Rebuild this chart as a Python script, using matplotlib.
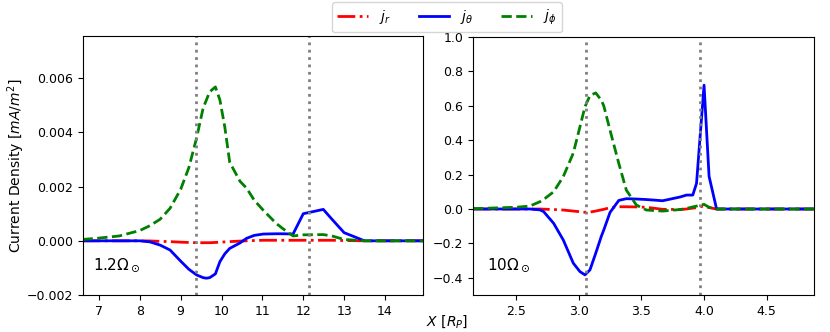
import matplotlib.pyplot as plt
import numpy as np

# left panel, 1.2 Omega_sun
x1 = [6.6, 7.0, 7.5, 8.0, 8.25, 8.5, 8.74, 9.0, 9.2, 9.39, 9.55, 9.63, 9.71, 9.85, 9.96,
      10.08, 10.2, 10.45, 10.61, 10.8, 11.02, 11.34, 11.5, 11.75, 12.0, 12.49, 12.7, 13.0,
      13.5, 14.0, 14.93]
jr1 = [0, 0, 0, 0, -0.000005, -0.00002, -0.00003, -0.00005, -0.00006, -0.00007, -0.00007,
       -0.00007, -0.00007, -0.00006, -0.00005, -0.00004, -0.00003, -0.00001, 0.0,
       0.00001, 0.00002, 0.00002, 0.00002, 0.00002, 0.00002, 0.00002, 0.00002,
       0.00001, 0, 0, 0]
jth1 = [0, 0, 0, 0, -0.00004, -0.00016, -0.00034, -0.00075, -0.00105, -0.00126, -0.00136,
        -0.00138, -0.00136, -0.00122, -0.00077, -0.00048, -0.00028, -0.00008, 0.00009,
        0.0002, 0.00025, 0.00026, 0.00026, 0.00025, 0.001, 0.00116, 0.0008, 0.0003, 0, 0, 0]
jph1 = [0.00005, 0.0001, 0.00018, 0.00038, 0.00056, 0.0008, 0.0012, 0.0019, 0.0027, 0.0038,
        0.0049, 0.0052, 0.0055, 0.00568, 0.0052, 0.0042, 0.0029, 0.0022, 0.00195,
        0.0015, 0.00113, 0.00064, 0.00045, 0.00018, 0.00022, 0.00023, 0.00018,
        0.00005, 0, 0, 0]

# right panel, 10 Omega_sun
x2 = [2.157, 2.5, 2.61, 2.69, 2.72, 2.8, 2.877, 2.957, 3.01, 3.05, 3.09, 3.136, 3.18,
      3.2, 3.25, 3.32, 3.38, 3.46, 3.54, 3.67, 3.81, 3.86, 3.91, 3.94, 4.0, 4.04,
      4.1, 4.5, 4.877]
jr2 = [0, 0, 0, 0, -0.001, -0.003, -0.006, -0.012, -0.016, -0.019, -0.018, -0.012, -0.005,
       -0.002, 0.008, 0.013, 0.013, 0.012, 0.01, -0.002, -0.003, 0.0, 0.005, 0.008, 0.018,
       0.008, 0, 0, 0]
jth2 = [0, 0, 0, -0.005, -0.015, -0.083, -0.18, -0.315, -0.364, -0.383, -0.354, -0.257,
        -0.16, -0.122, -0.02, 0.05, 0.06, 0.058, 0.055, 0.048, 0.07, 0.081, 0.081, 0.149,
        0.72, 0.19, 0, 0, 0]
jph2 = [0.002, 0.01, 0.017, 0.042, 0.055, 0.1, 0.188, 0.325, 0.478, 0.594, 0.66, 0.675,
        0.633, 0.6, 0.458, 0.265, 0.11, 0.023, -0.006, -0.012, -0.003, 0.003, 0.012, 0.017,
        0.027, 0.01, 0, 0, 0]

vlines1 = [9.38, 12.15]
vlines2 = [3.06, 3.97]

fig = plt.figure(figsize=(8.3, 3.32), dpi=100)
ax1 = fig.add_axes([83/830, 37/332, 340/830, 259/332])
ax2 = fig.add_axes([473/830, 37/332, 341/830, 258/332])

for ax, x, jr, jth, jph, vl in [(ax1, x1, jr1, jth1, jph1, vlines1),
                                (ax2, x2, jr2, jth2, jph2, vlines2)]:
    ax.plot(x, jr, color='red', ls='-.', lw=2, label='$j_r$')
    ax.plot(x, jth, color='blue', ls='-', lw=2, label=r'$j_\theta$')
    ax.plot(x, jph, color='green', ls='--', lw=2, label=r'$j_\phi$')
    for v in vl:
        ax.axvline(v, color='grey', ls=':', lw=2)
    ax.tick_params(labelsize=9)

ax1.set_xlim(6.61, 14.93)
ax1.set_ylim(-0.002, 0.00756)
ax1.set_yticks([-0.002, 0.0, 0.002, 0.004, 0.006])
ax1.set_xticks(range(7, 15))
ax1.set_ylabel('Current Density [$mA/m^2$]', fontsize=10, labelpad=0)
ax1.text(0.03, 0.1, r'$1.2\Omega_\odot$', transform=ax1.transAxes, fontsize=11)

ax2.set_xlim(2.157, 4.877)
ax2.set_ylim(-0.5, 1.0)
ax2.set_xticks([2.5, 3.0, 3.5, 4.0, 4.5])
ax2.text(0.04, 0.1, r'$10\Omega_\odot$', transform=ax2.transAxes, fontsize=11)

fig.text(447/830, 10/332, '$X\\ [R_P]$', ha='center', va='center', fontsize=10)
h, l = ax1.get_legend_handles_labels()
fig.legend(h, l, loc='upper center', bbox_to_anchor=(447/830, 1.015), ncol=3, fontsize=10,
           handlelength=2.2, columnspacing=2.0)

fig.savefig('out.png', dpi=100)
